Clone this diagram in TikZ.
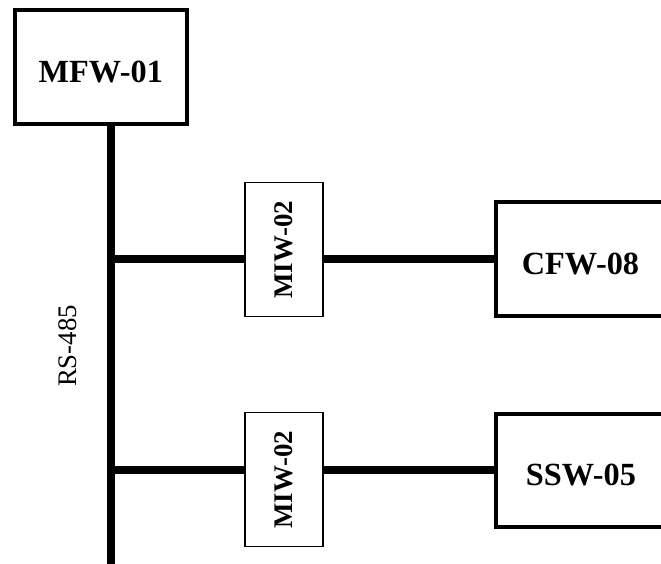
\documentclass[tikz,border=0pt]{standalone}
\usepackage{fontspec}
\setmainfont{Liberation Serif}
\begin{document}
\begin{tikzpicture}[x=1bp,y=-1bp,
  unitbox/.style={draw, line width=4bp, inner sep=0pt,
    minimum width=172bp, minimum height=114bp,
    font=\bfseries\fontsize{32.3bp}{38bp}\selectfont,
    text height=30bp, text depth=0pt},
  ifacebox/.style={draw, line width=1.5bp, inner sep=0pt, rotate=90,
    minimum width=134bp, minimum height=78bp,
    font=\bfseries\fontsize{26.9bp}{32bp}\selectfont},
  bus/.style={line width=8bp},
  buslabel/.style={rotate=90, inner sep=0pt,
    font=\fontsize{26.8bp}{32bp}\selectfont}]
  \useasboundingbox (0,0) rectangle (661,564);

  % master and the two slave drives
  \node[unitbox] (mfw) at (100.75,67.4) {MFW-01};
  \node[unitbox, minimum width=170bp] (cfw) at (580.5,259) {CFW-08};
  \node[unitbox, minimum width=170bp, minimum height=113.3bp] (ssw) at (581,470.4) {SSW-05};

  % interface modules
  \node[ifacebox] (miwa) at (284,249.7) {MIW-02};
  \node[ifacebox] (miwb) at (284,479.7) {MIW-02};

  % RS-485 bus and its taps
  \coordinate (busend) at (111,564);
  \coordinate (tapa) at (111,259);
  \coordinate (tapb) at (111,470);
  \draw[bus] (mfw.south -| busend) -- (busend);
  \draw[bus] (tapa) -- (tapa -| miwa.north);
  \draw[bus] (tapa -| miwa.south) -- (tapa -| cfw.west);
  \draw[bus] (tapb) -- (tapb -| miwb.north);
  \draw[bus] (tapb -| miwb.south) -- (tapb -| ssw.west);

  \node[buslabel] (rs) at (68,346) {RS-485};
\end{tikzpicture}
\end{document}
